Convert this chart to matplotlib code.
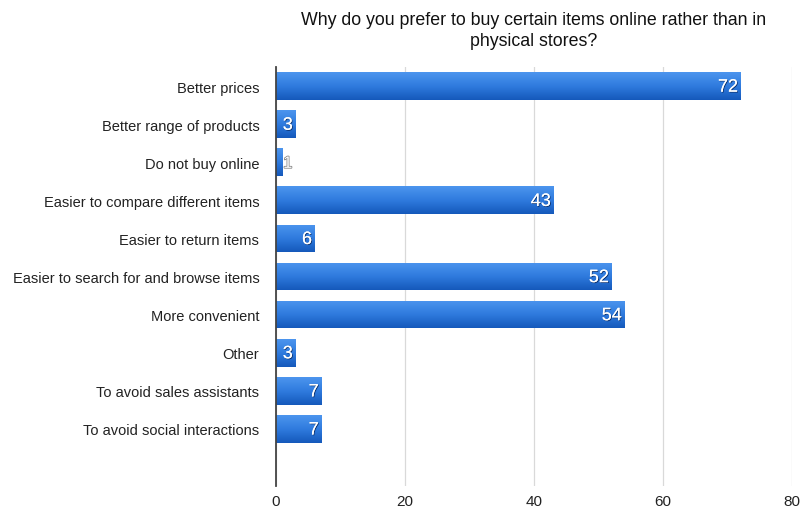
import matplotlib
matplotlib.use("Agg")
import matplotlib.pyplot as plt
import matplotlib.patheffects as pe
import numpy as np
from matplotlib.colors import LinearSegmentedColormap

categories = ["Better prices", "Better range of products", "Do not buy online",
              "Easier to compare different items", "Easier to return items",
              "Easier to search for and browse items", "More convenient", "Other",
              "To avoid sales assistants", "To avoid social interactions"]
values = [72, 3, 1, 43, 6, 52, 54, 3, 7, 7]
xticks = [0, 20, 40, 60, 80]
title = "Why do you prefer to buy certain items online rather than in\nphysical stores?"

plt.rcParams['font.family'] = ['Liberation Sans', 'DejaVu Sans']

fig = plt.figure(figsize=(8.05, 5.10), dpi=100)
ax = fig.add_axes([276/805, 1-487/510, (792-276)/805, (487-68)/510])

pos = np.arange(len(categories))
bars = ax.barh(pos, values, height=0.73, color='#2a72d6', zorder=2)

cmap = LinearSegmentedColormap.from_list('g', ['#4c95ee', '#2f7bde', '#1559bb'])
grad = np.linspace(0, 1, 64).reshape(-1, 1)
for b in bars:
    x0, y0 = b.get_x(), b.get_y()
    w, h = b.get_width(), b.get_height()
    im = ax.imshow(grad, cmap=cmap, aspect='auto', extent=[x0, x0 + w, y0 + h, y0],
                   zorder=3, interpolation='bilinear')
    im.set_clip_path(b)

ax.set_xlim(0, 80)
ax.set_ylim(10.5, -0.5)
ax.set_xticks(xticks)
ax.set_xticklabels([str(t) for t in xticks], fontsize=11, color='#222222')
ax.set_yticks(pos)
ax.set_yticklabels(categories, fontsize=10.5, color='#222222')
ax.tick_params(axis='both', length=0)
ax.tick_params(axis='x', pad=6)
ax.tick_params(axis='y', pad=12)
ax.grid(axis='x', color='#d9d9d9', linewidth=0.9, zorder=0)
ax.set_axisbelow(True)
for s in ['top', 'right', 'bottom']:
    ax.spines[s].set_visible(False)
ax.spines['left'].set_color('#444444')
ax.spines['left'].set_linewidth(1.3)
ax.spines['left'].set_zorder(5)

for p, v in zip(pos, values):
    fx = [pe.withSimplePatchShadow(offset=(0.6, -0.6), shadow_rgbFace='#0a2a60', alpha=0.9), pe.Normal()]
    if v >= 3:
        ax.text(v - 0.4, p + 0.03, str(v), ha='right', va='center', color='white',
                fontsize=13, zorder=6, path_effects=fx)
    else:
        ax.text(v + 0.1, p + 0.03, str(v), ha='left', va='center', color='white',
                fontsize=12, zorder=6,
                path_effects=[pe.withStroke(linewidth=1, foreground='#777777')])

fig.text(534/805, 1-31/510, title, ha='center', va='center', fontsize=12.8,
         color='#111111', linespacing=1.25)

fig.savefig("out.png", dpi=100)
